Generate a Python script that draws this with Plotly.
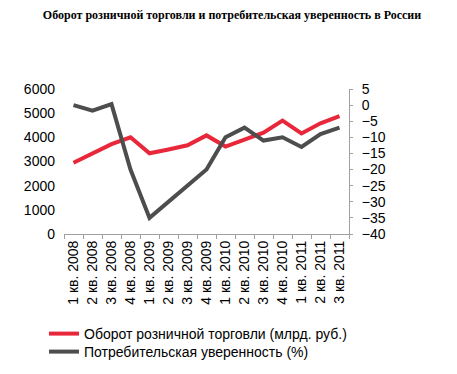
import plotly.graph_objects as go

categories = ["1 кв. 2008", "2 кв. 2008", "3 кв. 2008", "4 кв. 2008",
              "1 кв. 2009", "2 кв. 2009", "3 кв. 2009", "4 кв. 2009",
              "1 кв. 2010", "2 кв. 2010", "3 кв. 2010", "4 кв. 2010",
              "1 кв. 2011", "2 кв. 2011", "3 кв. 2011"]
retail = [2950, 3340, 3720, 4000, 3340, 3500, 3670, 4080,
          3620, 3910, 4190, 4690, 4160, 4580, 4880]
confidence = [0, -1.7, 0.3, -20, -35, -30, -25, -20,
              -10, -7, -11, -10, -13, -9, -7]

title = "Оборот розничной торговли и потребительская уверенность в России"
name_retail = "Оборот розничной торговли (млрд. руб.)"
name_conf = "Потребительская уверенность (%)"

fig = go.Figure()
fig.add_trace(go.Scatter(x=categories, y=retail, name=name_retail, mode="lines",
                         line=dict(color="#E8283A", width=4), legend="legend"))
fig.add_trace(go.Scatter(x=categories, y=confidence, name=name_conf, mode="lines",
                         yaxis="y2", line=dict(color="#4D4D4D", width=4), legend="legend2"))

font = "Liberation Sans, Arial, sans-serif"
H = 374
W = 457
leg_common = dict(xref="container", yref="container", xanchor="left", yanchor="top",
                  font=dict(size=14, family=font), bgcolor="rgba(0,0,0,0)", itemwidth=30)
fig.update_layout(
    width=W, height=H,
    margin=dict(l=56, r=116, t=81, b=148, autoexpand=False),
    paper_bgcolor="white", plot_bgcolor="white",
    title=dict(text="<b>" + title + "</b>", x=224 / W, xanchor="center", xref="container",
               y=1 - 7 / H, yanchor="middle", yref="container",
               font=dict(family="Liberation Serif, Times New Roman, serif", size=12, color="black")),
    font=dict(family=font, size=14, color="black"),
    xaxis=dict(type="category", tickangle=-90, showgrid=False, showline=True,
               linecolor="#A0A0A0", linewidth=1, ticks="outside", tickson="boundaries",
               ticklen=4, tickcolor="#A0A0A0", tickfont=dict(size=14, family=font),
               range=[-0.5, 14.5], zeroline=False, automargin=False),
    yaxis=dict(range=[0, 6000], tickvals=[0, 1000, 2000, 3000, 4000, 5000, 6000],
               showgrid=False, showline=False, zeroline=False, ticks="",
               ticklabelstandoff=8, automargin=False,
               tickfont=dict(size=14, family=font)),
    yaxis2=dict(range=[-40, 5], tickvals=list(range(-40, 6, 5)), overlaying="y", side="right",
                showgrid=False, showline=True, linecolor="#A0A0A0", linewidth=1,
                ticks="outside", ticklen=3, tickcolor="#A0A0A0", zeroline=False,
                ticklabelstandoff=6, automargin=False,
                tickfont=dict(size=14, family=font)),
    legend=dict(x=36 / W, y=1 - 310 / H, **leg_common),
    legend2=dict(x=36 / W, y=1 - 328 / H, **leg_common),
    showlegend=True,
)

fig.write_html("out.html")
